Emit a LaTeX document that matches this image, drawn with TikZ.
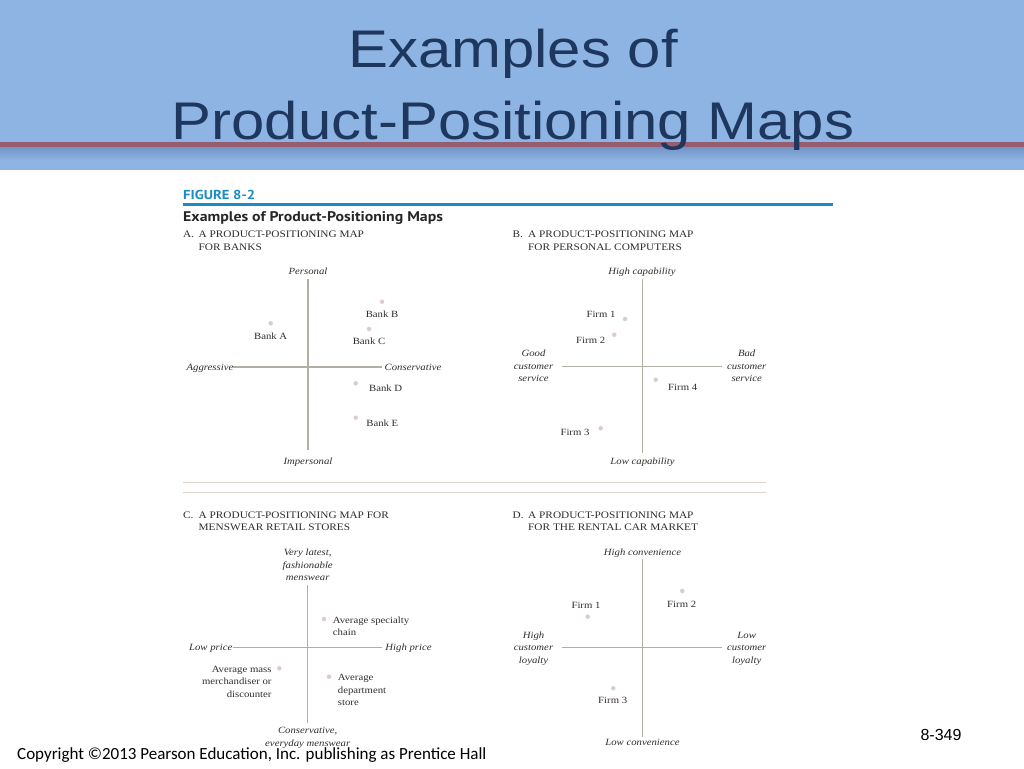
\documentclass[tikz,border=0pt]{standalone}
\usepackage{fontspec}
\setmainfont{Liberation Serif}
\newfontfamily\titlefont{Liberation Sans}[FakeStretch=1.13]
\newfontfamily\serifx{Liberation Serif}[FakeStretch=1.13]
\newfontfamily\figsans{PT Sans}[FakeStretch=1.13]
\newfontfamily\footfont{Carlito}
\newfontfamily\numfont{Liberation Sans}
\definecolor{band}{RGB}{142,180,227}
\definecolor{bandshadow}{RGB}{112,145,196}
\definecolor{maroonline}{RGB}{150,92,112}
\definecolor{titleblue}{RGB}{30,55,95}
\definecolor{figblue}{RGB}{25,140,195}
\definecolor{axiscol}{RGB}{178,174,160}
\definecolor{dotcol}{RGB}{220,205,198}
\definecolor{sepcol}{RGB}{222,212,202}
\definecolor{txt}{RGB}{50,45,45}
\tikzset{
  titletext/.style={font=\titlefont\fontsize{53}{60}\selectfont, text=titleblue, inner sep=0pt, anchor=base},
  lab/.style={font=\serifx\fontsize{9.5}{12.5}\selectfont, text=txt, inner sep=0pt, anchor=base},
  ital/.style={font=\serifx\itshape\fontsize{9.5}{12.8}\selectfont, text=txt, inner sep=0pt, anchor=base, align=center},
  head/.style={font=\serifx\fontsize{10}{12.4}\selectfont, text=txt, inner sep=0pt, anchor=base west, align=left},
  pdot/.style={circle, fill=dotcol, inner sep=0pt, minimum size=4.5pt},
  axisline/.style={draw=axiscol, line width=1.2pt},
  sepline/.style={draw=sepcol, line width=1.2pt}
}
\newcommand{\hd}[1]{\makebox[15.5pt][l]{#1}}
\newcommand{\ind}{\hspace*{15.5pt}}
\begin{document}
\begin{tikzpicture}[x=1pt,y=-1pt]
\useasboundingbox (0,0) rectangle (1024,768);
\fill[white] (0,0) rectangle (1024,768);
% header band
\fill[band] (0,0) rectangle (1024,170);
\shade[top color=bandshadow, bottom color=band] (0,146) rectangle (1024,160);
\fill[maroonline] (0,142) rectangle (1024,146.5);
\node[titletext] (t1) at (513,67) {Examples of};
\node[titletext] (t2) at (513,139) {Product-Positioning Maps};

% figure heading
\node[font=\figsans\bfseries\fontsize{13}{15}\selectfont, text=figblue, inner sep=0pt, anchor=base west] (fig) at (183,199.5) {FIGURE 8-2};
\coordinate (fl1) at (183,204.5);
\coordinate (fl2) at (833,204.5);
\draw[figblue, line width=2.5pt] (fl1) -- (fl2);
\node[font=\figsans\bfseries\fontsize{14}{16}\selectfont, text=black!85, inner sep=0pt, anchor=base west] (figt) at (183,221.8) {Examples of Product-Positioning Maps};

% ---------- Panel A ----------
\node[head] (hA) at (183,250) {\hd{A.}A PRODUCT-POSITIONING MAP\\\ind FOR BANKS};
\coordinate (aT) at (308,279);
\coordinate (aB) at (308,450);
\coordinate (aL) at (233,367);
\coordinate (aR) at (382,367);
\draw[axisline] (aT) -- (aB);
\draw[axisline] (aL) -- (aR);
\node[ital] (aPers) at (308,274) {Personal};
\node[ital] (aImp) at (308,464.5) {Impersonal};
\node[ital] (aAgg) at (210,370) {Aggressive};
\node[ital] (aCons) at (413,370) {Conservative};
\node[pdot] (dA) at (270.7,323.3) {};
\node[lab] (lA) at (270.7,339) {Bank A};
\node[pdot] (dB) at (382,301.7) {};
\node[lab] (lB) at (382,317) {Bank B};
\node[pdot] (dC) at (369,329) {};
\node[lab] (lC) at (369,344.7) {Bank C};
\node[pdot] (dD) at (355.7,383.3) {};
\node[lab] (lD) at (385.7,391.3) {Bank D};
\node[pdot] (dE) at (355.7,417.7) {};
\node[lab] (lE) at (382.3,426.3) {Bank E};

% ---------- Panel B ----------
\node[head] (hB) at (512.5,250) {\hd{B.}A PRODUCT-POSITIONING MAP\\\ind FOR PERSONAL COMPUTERS};
\coordinate (bT) at (642.5,279);
\coordinate (bB) at (642.5,453);
\coordinate (bL) at (562,366.5);
\coordinate (bR) at (722,366.5);
\draw[axisline] (bT) -- (bB);
\draw[axisline] (bL) -- (bR);
\node[ital] (bHigh) at (642,274.5) {High capability};
\node[ital] (bLow) at (642.5,464) {Low capability};
\node[ital] (bGood) at (533.5,381.9) {Good\\customer\\service};
\node[ital] (bBad) at (746.7,381.9) {Bad\\customer\\service};
\node[pdot] (d1) at (625,319) {};
\node[lab] (l1) at (601,317.3) {Firm 1};
\node[pdot] (d2) at (614.3,334.7) {};
\node[lab] (l2) at (590.7,343.7) {Firm 2};
\node[pdot] (d4) at (655.7,379.7) {};
\node[lab] (l4) at (682.7,390.7) {Firm 4};
\node[pdot] (d3) at (600.7,428.3) {};
\node[lab] (l3) at (575,435.3) {Firm 3};

% separators
\coordinate (s1a) at (183,482.7);
\coordinate (s1b) at (766,482.7);
\coordinate (s2a) at (183,492.7);
\coordinate (s2b) at (766,492.7);
\draw[sepline] (s1a) -- (s1b);
\draw[sepline] (s2a) -- (s2b);

% ---------- Panel C ----------
\node[head] (hC) at (183,530.9) {\hd{C.}A PRODUCT-POSITIONING MAP FOR\\\ind MENSWEAR RETAIL STORES};
\coordinate (cT) at (307.7,585);
\coordinate (cB) at (307.7,723);
\coordinate (cL) at (233,647.3);
\coordinate (cR) at (382,647.3);
\draw[axisline] (cT) -- (cB);
\draw[axisline] (cL) -- (cR);
\node[ital] (cTop) at (307.7,580.9) {Very latest,\\fashionable\\menswear};
\node[ital] (cBot) at (307.7,746.5) {Conservative,\\everyday menswear};
\node[ital] (cLow) at (210.7,650.3) {Low price};
\node[ital] (cHigh) at (408.5,650.3) {High price};
\node[pdot] (dSpec) at (324,619) {};
\node[lab, anchor=base west, align=left] (lSpec) at (332.7,635.5) {Average specialty\\chain};
\node[pdot] (dMass) at (279.3,668.3) {};
\node[lab, anchor=base east, align=right] (lMass) at (271.7,697.3) {Average mass\\merchandiser or\\discounter};
\node[pdot] (dDept) at (329,676.7) {};
\node[lab, anchor=base west, align=left] (lDept) at (337.7,705.7) {Average\\department\\store};

% ---------- Panel D ----------
\node[head] (hD) at (512.5,530.9) {\hd{D.}A PRODUCT-POSITIONING MAP\\\ind FOR THE RENTAL CAR MARKET};
\coordinate (dT) at (642.5,558.5);
\coordinate (dB) at (642.5,737);
\coordinate (dL) at (562,647.3);
\coordinate (dR) at (722,647.3);
\draw[axisline] (dT) -- (dB);
\draw[axisline] (dL) -- (dR);
\node[ital] (dHigh) at (642.5,555.3) {High convenience};
\node[ital] (dLowc) at (642.5,745.7) {Low convenience};
\node[ital] (dHL) at (533.5,663.6) {High\\customer\\loyalty};
\node[ital] (dLL) at (746.7,663.6) {Low\\customer\\loyalty};
\node[pdot] (e2) at (682.3,591) {};
\node[lab] (m2) at (681.7,607.3) {Firm 2};
\node[pdot] (e1) at (587.7,616.7) {};
\node[lab] (m1) at (586,608) {Firm 1};
\node[pdot] (e3) at (613.3,688.3) {};
\node[lab] (m3) at (612.7,703) {Firm 3};

% footer
\node[font=\footfont\fontsize{17}{19}\selectfont, text=black, inner sep=0pt, anchor=base west] (copy) at (17,759.5) {Copyright ©2013 Pearson Education, Inc. publishing as Prentice Hall};
\node[font=\numfont\fontsize{16}{18}\selectfont, text=black, inner sep=0pt, anchor=base] (pg) at (941,740) {8-349};
\end{tikzpicture}
\end{document}
